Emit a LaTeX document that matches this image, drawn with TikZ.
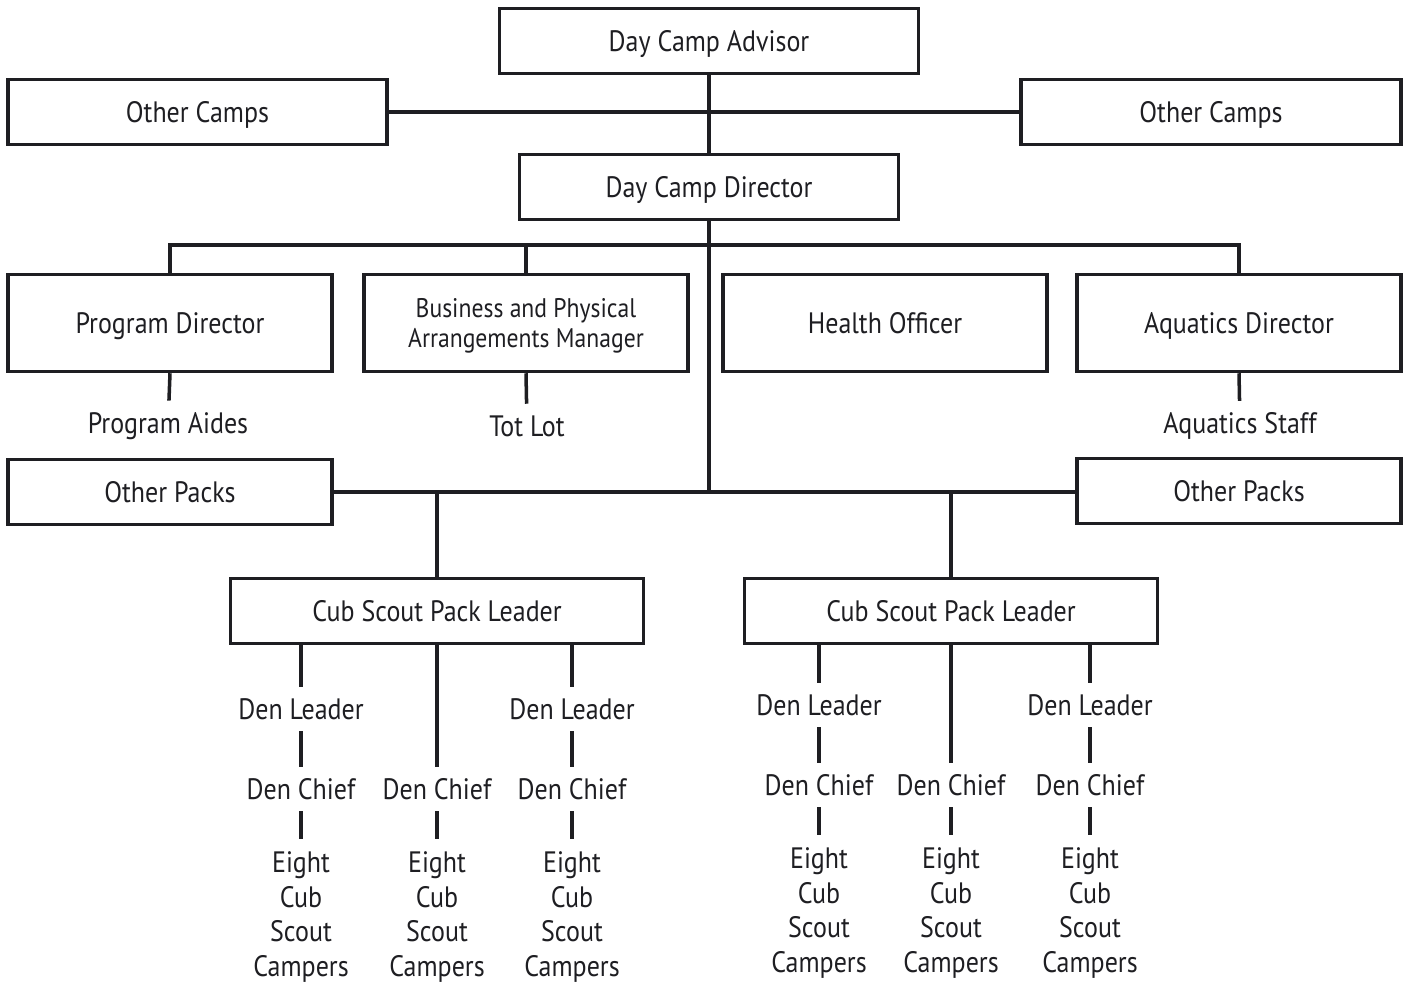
\documentclass[tikz,border=0pt]{standalone}
\usepackage{fontspec}
\setsansfont[FakeStretch=0.88]{PT Sans}
\definecolor{inkgray}{RGB}{30,30,34}
\tikzset{every picture/.style={/utils/exec={\sffamily}}}
\usetikzlibrary{calc}
\usetikzlibrary{positioning}

\begin{document}
\begin{tikzpicture}[x=0.02cm, y=-0.02cm, line width=2pt, draw=inkgray,
    unit/.style={draw, line width=2pt, minimum height=1.3cm, text=inkgray,
      text depth=0pt, font=\fontsize{16.8}{20}\selectfont},
    staff/.style={inner sep=0.2cm, align=center, text=inkgray,
      font=\fontsize{16.8}{19.9}\selectfont}]
  \useasboundingbox (0,0) rectangle (1408,986);

  % advisor, director and the other camps
  \node [unit, minimum width=8.38cm] at (709,41) (advisor) {Day Camp Advisor};
  \node [unit, minimum width=7.58cm] at (197.5,112) (campsL) {Other Camps};
  \node [unit, minimum width=7.6cm] at (1211,112) (campsR) {Other Camps};
  \node [unit, minimum width=7.58cm] at (709,187) (director) {Day Camp Director};
  \draw (campsL) -- (campsR);
  \draw (advisor) -- (director);

  % staff under the director
  \node [unit, minimum width=6.48cm, minimum height=1.94cm] at (170,323) (progdir) {Program Director};
  \node [unit, minimum width=6.48cm, minimum height=1.94cm, align=center,
    font=\fontsize{15.3}{16.6}\selectfont] at (526,323) (business) {Business and Physical\\Arrangements Manager};
  \node [unit, minimum width=6.48cm, minimum height=1.94cm] at (885,323) (health) {Health Officer};
  \node [unit, minimum width=6.48cm, minimum height=1.94cm] at (1239,323) (aqdir) {Aquatics Director};
  \coordinate (bar) at (709,245);
  \draw (progdir.north) -- (progdir.north |- bar) -- (aqdir.north |- bar) -- (aqdir.north);
  \draw (business.north) -- (business.north |- bar);

  \node [staff] at (168,426) (aides) {Program Aides};
  \node [staff] at (527,426) (totlot) {Tot Lot};
  \node [staff] at (1240,426) (aqstaff) {Aquatics Staff};
  \draw (progdir.south) -- (aides);
  \draw (business.south) -- (totlot);
  \draw (aqdir.south) -- (aqstaff);

  % packs
  \node [unit, minimum width=6.48cm] at (170,492) (packsL) {Other Packs};
  \node [unit, minimum width=6.48cm] at (1239,491) (packsR) {Other Packs};
  \draw (packsL) -- (packsL -| packsR.west);
  \draw (director) -- (director |- packsL.east);

  \foreach \p/\x/\a/\b/\dy in {1/437/-136/135/0, 2/951/-132/139/-4} {
    \node [unit, minimum width=8.26cm] at (\x,611) (pack\p) {Cub Scout Pack Leader};
    \draw (pack\p) -- (pack\p |- packsL.east);

    \foreach \s/\dx in {1/\a, 2/0, 3/\b} {
      \node [staff] at ($(pack\p)+(\dx,178+\dy)$) (chief\p\s) {Den Chief};
      \node [staff] at ($(pack\p)+(\dx,306+\dy)$) (campers\p\s) {Eight\\Cub\\Scout\\Campers};
      \draw (chief\p\s) -- (campers\p\s);
    }
    \foreach \s/\dx in {1/\a, 3/\b} {
      \node [staff] at ($(pack\p)+(\dx,98+\dy)$) (den\p\s) {Den Leader};
      \draw (den\p\s |- pack\p.south) -- (den\p\s);
      \draw (den\p\s) -- (chief\p\s);
    }
    \draw (pack\p.south) -- (chief\p2);
  }
\end{tikzpicture}
\end{document}
